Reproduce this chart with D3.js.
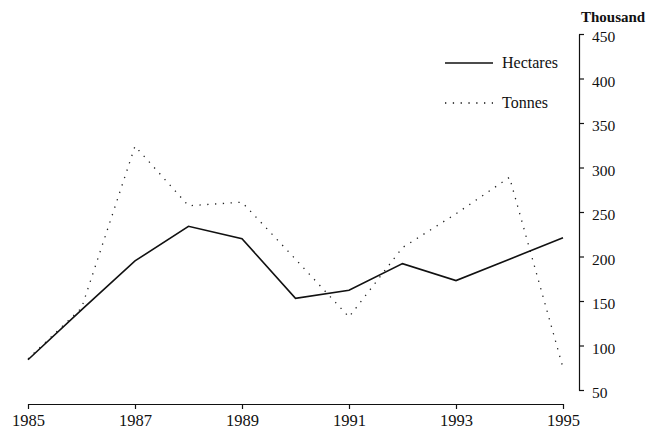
<!DOCTYPE html>
<html>
<head>
<meta charset="utf-8">
<script src="https://cdn.jsdelivr.net/npm/d3@7/dist/d3.min.js"></script>
<style>
  body { margin: 0; background: #fff; }
  svg text { font-family: "Liberation Serif", "DejaVu Serif", serif; fill: #111; }
</style>
</head>
<body>
<svg id="chart" width="649" height="432"></svg>
<script>
// data (thousand)
var years = [1985, 1986, 1987, 1988, 1989, 1990, 1991, 1992, 1993, 1994, 1995];
var hectares = [84, 140, 195, 234, 220, 153, 162, 192, 173, 197, 221];
var tonnes = [85, 142, 324, 257, 261, 197, 132, 210, 248, 289, 75];
var xTickYears = [1985, 1987, 1989, 1991, 1993, 1995];
var yTicks = [50, 100, 150, 200, 250, 300, 350, 400, 450];

var svg = d3.select("#chart");

var x = d3.scaleLinear().domain([1985, 1995]).range([28, 563]);
var y = d3.scaleLinear().domain([50, 450]).range([390, 34]);

// x axis, ticks hang down
var xAxis = svg.append("g")
    .attr("transform", "translate(0,404)")
    .call(d3.axisBottom(x).tickValues(xTickYears).tickFormat(d3.format("d"))
      .tickSizeInner(5).tickSizeOuter(0).tickPadding(5));
xAxis.select(".domain").attr("stroke", "#111").attr("stroke-width", 1.2);
xAxis.selectAll(".tick line").attr("stroke", "#111").attr("stroke-width", 1.2);
xAxis.selectAll("text").style("font-size", "16.5px").attr("fill", "#111");

// y axis on the right
var yAxis = svg.append("g")
    .attr("transform", "translate(579,0)")
    .call(d3.axisRight(y).tickValues(yTicks)
      .tickSizeInner(5).tickSizeOuter(0).tickPadding(8));
yAxis.select(".domain").attr("stroke", "#111").attr("stroke-width", 1.2);
yAxis.selectAll(".tick line").attr("stroke", "#111").attr("stroke-width", 1.2);
yAxis.selectAll("text").style("font-size", "15.5px").attr("fill", "#111").attr("dy", "0.5em");

svg.append("text")
    .attr("x", 581).attr("y", 22)
    .style("font-size", "15px")
    .style("font-weight", "bold")
    .text("Thousand");

var line = d3.line()
    .x(function(d, i) { return x(years[i]); })
    .y(function(d) { return y(d); });

svg.append("path")
    .datum(tonnes)
    .attr("d", line)
    .attr("fill", "none")
    .attr("stroke", "#222")
    .attr("stroke-width", 1.3)
    .attr("stroke-dasharray", "1.3,6.5");

svg.append("path")
    .datum(hectares)
    .attr("d", line)
    .attr("fill", "none")
    .attr("stroke", "#111")
    .attr("stroke-width", 1.6);

// legend
var legend = [
  { name: "Hectares", dash: null, w: 1.6 },
  { name: "Tonnes", dash: "1.3,6.5", w: 1.3 }
];
var lg = svg.append("g").selectAll("g")
    .data(legend).enter().append("g")
    .attr("transform", function(d, i) { return "translate(445," + (63 + i * 40) + ")"; });
lg.append("line")
    .attr("x1", 0).attr("x2", 48).attr("y1", 0).attr("y2", 0)
    .attr("stroke", "#111")
    .attr("stroke-width", function(d) { return d.w; })
    .attr("stroke-dasharray", function(d) { return d.dash; });
lg.append("text")
    .attr("x", 57).attr("y", 4.5)
    .style("font-size", "16px")
    .text(function(d) { return d.name; });
</script>
</body>
</html>
